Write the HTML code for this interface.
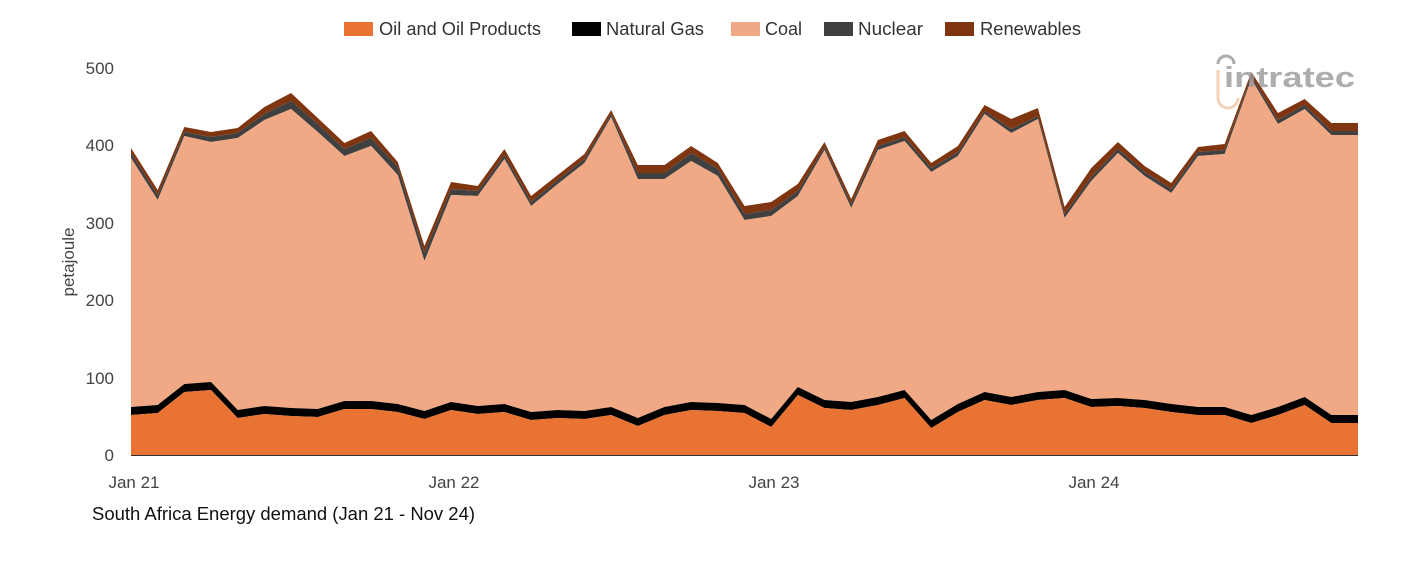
<!DOCTYPE html>
<html><head><meta charset="utf-8"><style>
body{margin:0;background:#fff;width:1401px;height:561px;overflow:hidden;font-family:"Liberation Sans",sans-serif}
</style></head><body>
<svg id="s" width="1401" height="561" xmlns="http://www.w3.org/2000/svg" font-family="Liberation Sans, sans-serif">
<g font-size="18" fill="#333">
<rect x="344" y="22" width="29" height="14" fill="#e87332"/><text x="379" y="35" textLength="162" lengthAdjust="spacingAndGlyphs">Oil and Oil Products</text>
<rect x="572" y="22" width="29" height="14" fill="#000"/><text x="606" y="35" textLength="98" lengthAdjust="spacingAndGlyphs">Natural Gas</text>
<rect x="731" y="22" width="29" height="14" fill="#f0a984"/><text x="765" y="35" textLength="37" lengthAdjust="spacingAndGlyphs">Coal</text>
<rect x="824" y="22" width="29" height="14" fill="#404040"/><text x="858" y="35" textLength="65" lengthAdjust="spacingAndGlyphs">Nuclear</text>
<rect x="945" y="22" width="29" height="14" fill="#7f3610"/><text x="980" y="35" textLength="101" lengthAdjust="spacingAndGlyphs">Renewables</text>
</g>
<g font-size="17" fill="#444" text-anchor="end">
<text x="114" y="74">500</text><text x="114" y="151">400</text><text x="114" y="229">300</text>
<text x="114" y="306">200</text><text x="114" y="384">100</text><text x="114" y="461">0</text>
</g>
<text transform="translate(74,262) rotate(-90)" font-size="17" fill="#444" text-anchor="middle">petajoule</text>
<g id="areas"></g>
<line x1="131" y1="455.5" x2="1358" y2="455.5" stroke="#333" stroke-width="1"/>
<g font-size="17" fill="#444" text-anchor="middle">
<text x="134" y="488">Jan 21</text><text x="454" y="488">Jan 22</text><text x="774" y="488">Jan 23</text><text x="1094" y="488">Jan 24</text>
</g>
<text x="92" y="520" font-size="18" fill="#111" textLength="383" lengthAdjust="spacingAndGlyphs">South Africa Energy demand (Jan 21 - Nov 24)</text>
<g opacity="0.8">
<path d="M1218 70 v28 a10 10 0 0 0 20 0" stroke="#f0c8a8" stroke-width="3" fill="none"/>
<path d="M1218 64 a8 8 0 0 1 16 0" stroke="#999" stroke-width="3" fill="none"/>
<text x="1224" y="87" font-size="29" font-weight="bold" fill="#999" textLength="131" lengthAdjust="spacingAndGlyphs">intratec</text>
</g>
</svg>
<script>
var top_=[148,190,127,132,128,107,93,118,143,131,162,246,182,186,149,196,175,154,110,165,165,146,163,206,202,184,142,199,140,131,163,146,105,119,108,207,168,142,166,183,147,144,72,113,99,123,123];
var oil=[415,413,392,390,418,414,416,417,409,409,412,419,410,414,412,420,418,419,415,426,415,410,411,413,427,395,408,410,405,398,428,412,400,405,400,398,407,406,408,412,415,415,423,415,405,423,423];
var rw=[5,5,5,5,5,7,8,6,6,7,5,7,7,5,6,6,5,5,4,8,8,7,6,8,8,7,5,5,6,6,5,6,6,10,8,7,9,7,6,6,5,6,4,7,6,8,8];
var nu=[5,5,4,5,5,6,8,8,7,8,8,8,6,5,4,4,4,4,3,6,6,8,7,6,6,5,3,4,4,4,4,4,3,4,3,4,4,4,4,4,4,4,3,4,4,4,4];
var n=top_.length;function X(i){return 131+i*(1227/46);}
function area(a,b,c){var d="M"+X(0)+" "+a[0];for(var i=1;i<n;i++)d+=" L"+X(i)+" "+a[i];for(var i=n-1;i>=0;i--)d+=" L"+X(i)+" "+b[i];return '<path d="'+d+' Z" fill="'+c+'"/>';}
var base=[],gas=[],coal=[],nuc=[];
for(var i=0;i<n;i++){base.push(455);gas.push(oil[i]-8);nuc.push(top_[i]+rw[i]);coal.push(top_[i]+rw[i]+nu[i]);}
document.getElementById('areas').innerHTML=area(top_,nuc,"#7f3610")+area(nuc,coal,"#404040")+area(coal,gas,"#f0a984")+area(gas,oil,"#000")+area(oil,base,"#e87332");
</script>
</body></html>
